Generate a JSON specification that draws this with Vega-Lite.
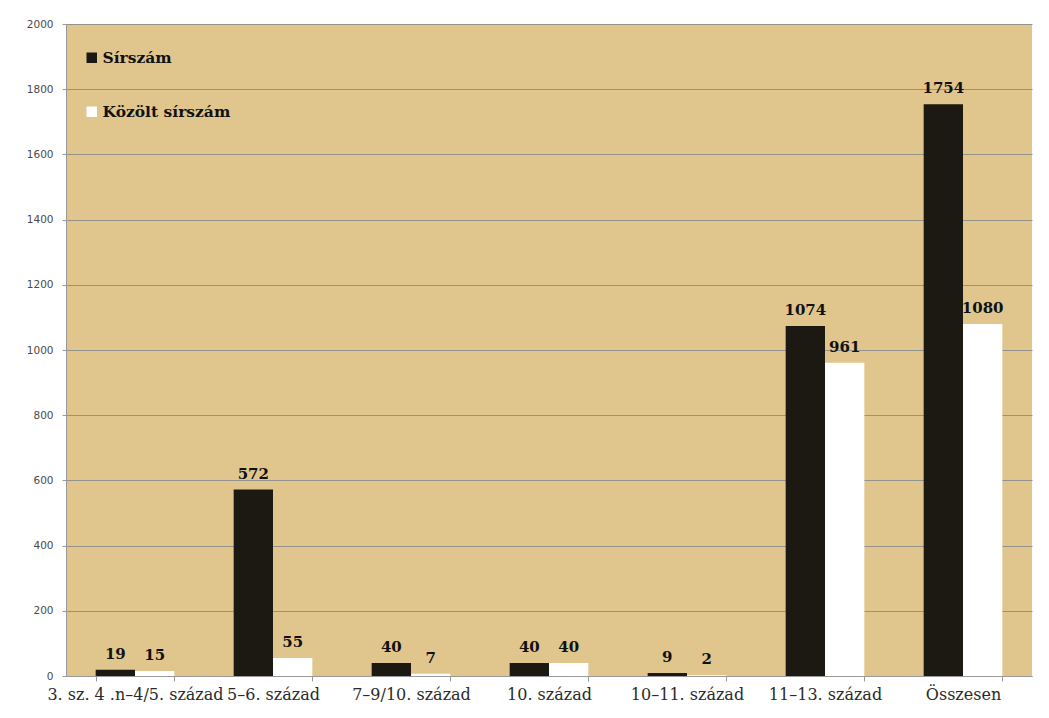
{
  "$schema": "https://vega.github.io/schema/vega-lite/v6.json",
  "autosize": {"type": "none"},
  "width": 966,
  "height": 652,
  "padding": {"left": 66, "top": 24, "right": 17, "bottom": 42},
  "background": "#ffffff",
  "data": {
    "values": [
      {"kor": "3. sz. 4 .n–4/5. század", "sorozat": "Sírszám", "ertek": 19},
      {"kor": "3. sz. 4 .n–4/5. század", "sorozat": "Közölt sírszám", "ertek": 15},
      {"kor": "5–6. század", "sorozat": "Sírszám", "ertek": 572},
      {"kor": "5–6. század", "sorozat": "Közölt sírszám", "ertek": 55},
      {"kor": "7–9/10. század", "sorozat": "Sírszám", "ertek": 40},
      {"kor": "7–9/10. század", "sorozat": "Közölt sírszám", "ertek": 7},
      {"kor": "10. század", "sorozat": "Sírszám", "ertek": 40},
      {"kor": "10. század", "sorozat": "Közölt sírszám", "ertek": 40},
      {"kor": "10–11. század", "sorozat": "Sírszám", "ertek": 9},
      {"kor": "10–11. század", "sorozat": "Közölt sírszám", "ertek": 2},
      {"kor": "11–13. század", "sorozat": "Sírszám", "ertek": 1074},
      {"kor": "11–13. század", "sorozat": "Közölt sírszám", "ertek": 961},
      {"kor": "Összesen", "sorozat": "Sírszám", "ertek": 1754},
      {"kor": "Összesen", "sorozat": "Közölt sírszám", "ertek": 1080}
    ]
  },
  "encoding": {
    "x": {
      "field": "kor", "type": "nominal", "sort": null, "title": null,
      "scale": {"paddingInner": 0.43, "paddingOuter": 0.215},
      "axis": {
        "labelAngle": 0, "labelOverlap": false, "labelLimit": 0,
        "labelFont": "DejaVu Serif", "labelFontSize": 16, "labelColor": "#2a2a2a",
        "labelPadding": 5, "tickBand": "extent", "tickSize": 5,
        "tickColor": "#999999", "domainColor": "#999999", "grid": false
      }
    },
    "xOffset": {"field": "sorozat", "type": "nominal", "sort": ["Sírszám", "Közölt sírszám"], "scale": {"paddingInner": 0}},
    "y": {
      "field": "ertek", "type": "quantitative", "title": null,
      "scale": {"domain": [0, 2000], "nice": false},
      "axis": {
        "values": [0, 200, 400, 600, 800, 1000, 1200, 1400, 1600, 1800, 2000],
        "format": "d",
        "labelFont": "DejaVu Sans", "labelFontSize": 10.5, "labelColor": "#4a4a4a",
        "labelPadding": 9, "tickSize": 4, "tickColor": "#999999",
        "domainColor": "#999999", "gridColor": "#8c8c8c", "gridWidth": 1, "gridOpacity": 0.9
      }
    }
  },
  "layer": [
    {
      "mark": {"type": "bar"},
      "encoding": {
        "color": {
          "field": "sorozat", "type": "nominal", "sort": ["Sírszám", "Közölt sírszám"],
          "scale": {"domain": ["Sírszám", "Közölt sírszám"], "range": ["#1b1912", "#ffffff"]},
          "legend": {
            "title": null, "orient": "none", "legendX": 18, "legendY": 26,
            "symbolType": "square", "symbolSize": 110, "symbolStrokeWidth": 0,
            "labelFont": "DejaVu Serif", "labelFontSize": 15.5, "labelFontWeight": "bold",
            "labelColor": "#111111", "rowPadding": 37, "labelOffset": 3
          }
        }
      }
    },
    {
      "mark": {"type": "text", "baseline": "bottom", "dy": -8, "font": "DejaVu Serif", "fontSize": 15, "fontWeight": "bold", "color": "#111111"},
      "encoding": {"text": {"field": "ertek", "type": "quantitative"}}
    }
  ],
  "config": {
    "view": {"fill": "#e0c68d", "stroke": null}
  }
}
